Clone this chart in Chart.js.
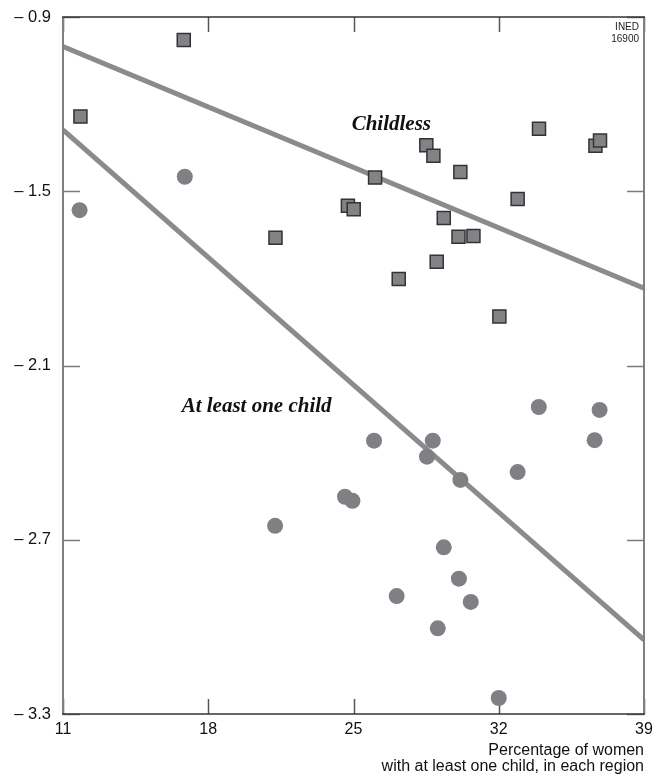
<!DOCTYPE html>
<html>
<head>
<meta charset="utf-8">
<script src="https://cdn.jsdelivr.net/npm/chart.js@4/dist/chart.umd.min.js"></script>
<style>
  html, body { margin: 0; padding: 0; background: #ffffff; }
  #wrap { width: 664px; height: 777px; }
</style>
</head>
<body>
<div id="wrap"><canvas id="c" width="664" height="777"></canvas></div>
<script>
// ---- Data ----
const childlessX = [11.84, 16.82, 21.24, 24.73, 25.01, 26.04, 27.18, 28.51, 28.85, 29.01, 29.35, 30.06, 30.15, 30.78, 32.03, 32.91, 33.94, 36.66, 36.88];
const childlessY = [-1.243, -0.979, -1.660, -1.550, -1.562, -1.453, -1.802, -1.342, -1.378, -1.743, -1.592, -1.657, -1.434, -1.654, -1.931, -1.527, -1.285, -1.343, -1.325];

const oneChildX = [11.80, 16.87, 21.22, 24.59, 24.95, 25.99, 27.08, 28.54, 28.82, 29.06, 29.35, 30.08, 30.15, 30.65, 32.00, 32.91, 33.93, 36.62, 36.86];
const oneChildY = [-1.565, -1.450, -2.652, -2.552, -2.566, -2.359, -2.894, -2.414, -2.359, -3.005, -2.726, -2.834, -2.494, -2.914, -3.245, -2.467, -2.243, -2.357, -2.253];

const fitX = [11, 39];
const childlessFitY = [-1.002, -1.834];
const oneChildFitY = [-1.289, -3.045];

const xTickValues = [11, 18, 25, 32, 39];
const xTickLabels = ['11', '18', '25', '32', '39'];
const yTickValues = [-3.3, -2.7, -2.1, -1.5, -0.9];
const yTickLabels = ['– 3.3', '– 2.7', '– 2.1', '– 1.5', '– 0.9'];

const seriesLabels = ['Childless', 'At least one child'];
const xAxisTitle = ['Percentage of women', 'with at least one child, in each region'];
const sourceNote = ['INED', '16900'];

// ---- Build ----
const toPts = (xs, ys) => xs.map((x, i) => ({ x: x, y: ys[i] }));

const SANS = '"Liberation Sans", Arial, Helvetica, sans-serif';
const SERIF = '"Liberation Serif", "Times New Roman", serif';

const decor = {
  id: 'decor',
  beforeDatasetsDraw(chart) {
    const ctx = chart.ctx;
    const a = chart.chartArea;
    const xs = chart.scales.x, ys = chart.scales.y;
    ctx.save();
    // inner tick marks
    ctx.lineWidth = 1.5;
    ctx.strokeStyle = '#7a7a7a';
    yTickValues.forEach(v => {
      const py = Math.round(ys.getPixelForValue(v)) + 0.5;
      ctx.beginPath(); ctx.moveTo(a.left, py); ctx.lineTo(a.left + 17, py); ctx.stroke();
      ctx.beginPath(); ctx.moveTo(a.right - 17, py); ctx.lineTo(a.right, py); ctx.stroke();
    });
    ctx.strokeStyle = '#555555';
    xTickValues.forEach(v => {
      const px = Math.round(xs.getPixelForValue(v)) + 0.5;
      ctx.beginPath(); ctx.moveTo(px, a.bottom); ctx.lineTo(px, a.bottom - 15); ctx.stroke();
      ctx.beginPath(); ctx.moveTo(px, a.top); ctx.lineTo(px, a.top + 15); ctx.stroke();
    });
    // annotations
    ctx.fillStyle = '#111111';
    ctx.font = 'italic bold 21px ' + SERIF;
    ctx.textBaseline = 'middle';
    ctx.textAlign = 'left';
    ctx.fillText(seriesLabels[0], xs.getPixelForValue(24.91), ys.getPixelForValue(-1.272));
    ctx.fillText(seriesLabels[1], xs.getPixelForValue(16.72), ys.getPixelForValue(-2.240));
    ctx.font = '10px ' + SANS;
    ctx.textAlign = 'right';
    ctx.fillStyle = '#222222';
    ctx.fillText(sourceNote[0], a.right - 5, a.top + 10);
    ctx.fillText(sourceNote[1], a.right - 5, a.top + 22);
    ctx.restore();
  },
  afterDraw(chart) {
    const ctx = chart.ctx;
    const a = chart.chartArea;
    ctx.save();
    ctx.lineWidth = 2;
    ctx.strokeStyle = '#808080';
    ctx.beginPath(); ctx.moveTo(a.left, a.top); ctx.lineTo(a.left, a.bottom); ctx.stroke();
    ctx.beginPath(); ctx.moveTo(a.right, a.top); ctx.lineTo(a.right, a.bottom); ctx.stroke();
    ctx.lineWidth = 1.5;
    ctx.strokeStyle = '#333333';
    ctx.beginPath(); ctx.moveTo(a.left - 1, a.top); ctx.lineTo(a.right + 1, a.top); ctx.stroke();
    ctx.beginPath(); ctx.moveTo(a.left - 1, a.bottom); ctx.lineTo(a.right + 1, a.bottom); ctx.stroke();
    ctx.restore();
  }
};

new Chart(document.getElementById('c'), {
  type: 'scatter',
  data: {
    datasets: [
      {
        type: 'line',
        label: 'Childless fit',
        data: toPts(fitX, childlessFitY),
        borderColor: '#8b8b8e',
        borderWidth: 5,
        pointRadius: 0,
        fill: false,
        order: 3
      },
      {
        type: 'line',
        label: 'At least one child fit',
        data: toPts(fitX, oneChildFitY),
        borderColor: '#8b8b8e',
        borderWidth: 5,
        pointRadius: 0,
        fill: false,
        order: 3
      },
      {
        label: seriesLabels[1],
        data: toPts(oneChildX, oneChildY),
        pointStyle: 'circle',
        pointRadius: 8,
        backgroundColor: '#7f8084',
        borderColor: '#7f8084',
        borderWidth: 0,
        order: 2
      },
      {
        label: seriesLabels[0],
        data: toPts(childlessX, childlessY),
        pointStyle: 'rect',
        pointRadius: 9.2,
        backgroundColor: '#838387',
        borderColor: '#333333',
        borderWidth: 1.5,
        order: 1
      }
    ]
  },
  options: {
    responsive: false,
    animation: false,
    devicePixelRatio: 1,
    layout: { autoPadding: false, padding: { top: 17, right: 20, left: 0, bottom: 0 } },
    plugins: { legend: { display: false }, tooltip: { enabled: false } },
    scales: {
      x: {
        type: 'linear',
        min: 11, max: 39,
        afterFit(s) { s.height = 63; s.paddingLeft = 0; s.paddingRight = 0; },
        afterBuildTicks(s) { s.ticks = xTickValues.map(v => ({ value: v })); },
        grid: { display: false, drawTicks: false },
        border: { display: false },
        ticks: {
          padding: 6,
          color: '#111111',
          font: { family: SANS, size: 16 },
          maxRotation: 0,
          callback: (v) => xTickLabels[xTickValues.indexOf(v)]
        },
        title: {
          display: true,
          text: xAxisTitle,
          align: 'end',
          color: '#111111',
          font: { family: SANS, size: 16, lineHeight: 1.0 },
          padding: { top: 0, bottom: 2 }
        }
      },
      y: {
        type: 'linear',
        min: -3.3, max: -0.9,
        afterFit(s) { s.width = 63; s.paddingTop = 0; s.paddingBottom = 0; },
        afterBuildTicks(s) { s.ticks = yTickValues.map(v => ({ value: v })); },
        grid: { display: false, drawTicks: false },
        border: { display: false },
        ticks: {
          padding: 12,
          color: '#111111',
          font: { family: SANS, size: 16.5 },
          callback: (v) => {
            const i = yTickValues.findIndex(t => Math.abs(t - v) < 1e-6);
            return i >= 0 ? yTickLabels[i] : '';
          }
        }
      }
    }
  },
  plugins: [decor]
});
</script>
</body>
</html>
